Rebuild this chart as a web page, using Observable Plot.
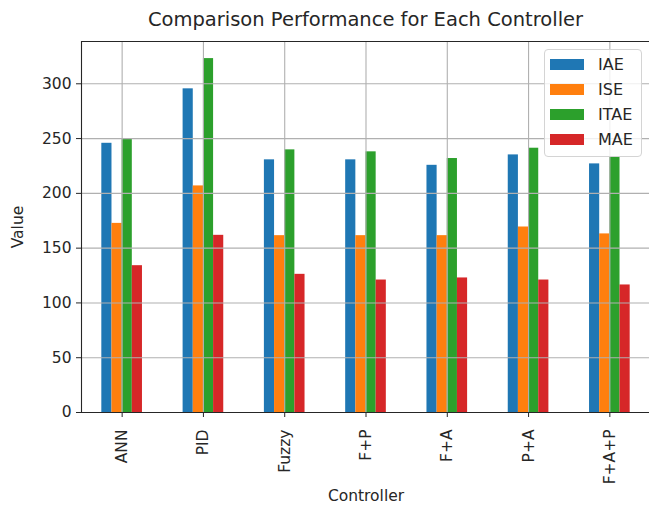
<!DOCTYPE html>
<html>
<head>
<meta charset="utf-8">
<script src="https://cdn.jsdelivr.net/npm/d3@7"></script>
<script src="https://cdn.jsdelivr.net/npm/@observablehq/plot@0.6"></script>
<style>
  html, body { margin: 0; padding: 0; background: #fff; }
  #wrap { position: relative; width: 649px; height: 506px; overflow: hidden; font-family: "DejaVu Sans", sans-serif; color: #262626; }
  #chart { position: absolute; left: 0; top: 0; }
  #title { position: absolute; left: 81px; width: 569px; top: 8px; text-align: center; font-size: 19.5px; line-height: 24px; white-space: nowrap; }
  #legend { position: absolute; left: 544px; top: 49px; width: 96px; height: 106px; background: rgba(255,255,255,0.8); border: 1px solid #d4d4d4; border-radius: 4px; }
  .lrow { position: absolute; left: 0; height: 24px; display: flex; align-items: center; font-size: 16px; }
  .lpatch { width: 34px; height: 11px; margin-left: 5px; margin-right: 14px; }
</style>
</head>
<body>
<div id="wrap">
  <div id="chart"></div>
  <div id="title">Comparison Performance for Each Controller</div>
  <div id="legend"></div>
</div>
<script>
const controllers = ["ANN", "PID", "Fuzzy", "F+P", "F+A", "P+A", "F+A+P"];
const seriesNames = ["IAE", "ISE", "ITAE", "MAE"];
const IAE  = [245.7, 295.4, 230.6, 230.6, 225.6, 235.1, 226.9];
const ISE  = [172.6, 206.8, 161.4, 161.4, 161.4, 169.3, 163.0];
const ITAE = [249.7, 323.0, 239.7, 237.9, 231.8, 241.2, 233.0];
const MAE  = [134.0, 161.7, 126.1, 120.9, 122.8, 120.9, 116.4];
const colors = ["#1f77b4", "#ff7f0e", "#2ca02c", "#d62728"];
const yTicks = [0, 50, 100, 150, 200, 250, 300];
const yMax = 338.6;

const seriesValues = [IAE, ISE, ITAE, MAE];
const rows = controllers.flatMap((c, i) =>
  seriesValues.map((arr, k) => ({ controller: c, idx: i, series: seriesNames[k], k, value: arr[i] }))
);
const groupWidth = 0.5;
const barW = groupWidth / seriesNames.length;
const xIdx = d3.range(controllers.length);

const chart = Plot.plot({
  width: 649,
  height: 506,
  marginTop: 41,
  marginBottom: 94,
  marginLeft: 81,
  marginRight: -1,
  style: { fontFamily: "DejaVu Sans, sans-serif", fontSize: "16px", color: "#262626", background: "white", overflow: "hidden" },
  x: { domain: [-0.5, controllers.length - 0.5] },
  y: { domain: [0, yMax] },
  color: { domain: seriesNames, range: colors },
  marks: [
    Plot.rectY(rows, {
      x1: d => d.idx - groupWidth / 2 + d.k * barW,
      x2: d => d.idx - groupWidth / 2 + (d.k + 1) * barW,
      y1: 0, y2: "value", fill: "series"
    }),
    Plot.gridY(yTicks, { stroke: "#b0b0b0", strokeOpacity: 1, strokeWidth: 1.1 }),
    Plot.gridX(xIdx, { stroke: "#b0b0b0", strokeOpacity: 1, strokeWidth: 1.1 }),
    Plot.ruleY([0, yMax], { stroke: "#262626", strokeWidth: 1.1 }),
    Plot.ruleX([-0.5], { stroke: "#262626", strokeWidth: 1.1 }),
    Plot.axisY(yTicks, { tickSize: 5, tickPadding: 5, fontSize: 15.5, label: "Value", labelAnchor: "center", labelArrow: "none", labelOffset: 70 }),
    Plot.axisX(xIdx, { tickFormat: i => controllers[i], tickRotate: -90, tickSize: 5, tickPadding: 12, fontSize: 15.5, label: "Controller", labelAnchor: "center", labelArrow: "none", labelOffset: 88 })
  ]
});
document.getElementById("chart").appendChild(chart);

const legend = document.getElementById("legend");
seriesNames.forEach((name, k) => {
  const row = document.createElement("div");
  row.className = "lrow";
  row.style.top = (2 + k * 25.3) + "px";
  const patch = document.createElement("div");
  patch.className = "lpatch";
  patch.style.background = colors[k];
  const label = document.createElement("span");
  label.textContent = name;
  row.appendChild(patch);
  row.appendChild(label);
  legend.appendChild(row);
});
</script>
</body>
</html>
